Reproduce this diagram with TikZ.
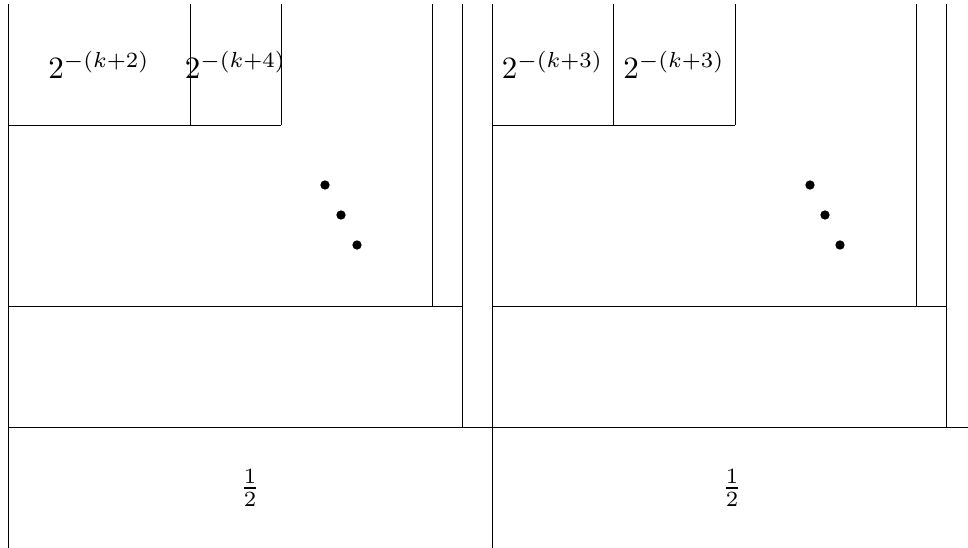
\documentclass[tikz,border=0pt]{standalone}
\usepackage{amsmath,amssymb}
\usepackage{tikz}
\usetikzlibrary{positioning,calc}

\tikzset{
    block/.style={inner sep=0pt},
    half/.style={inner sep=0pt},
    dot/.style={circle,fill,inner sep=0pt,minimum size=3pt}
}

\begin{document}
\begin{tikzpicture}[x=0.322pt,y=-0.322pt,line width=0.3pt]
    \useasboundingbox (0,0) rectangle (968,548);

    % Left square
    \begin{scope}[shift={(0,0)}]
        \draw (8,4) -- (8,548);
        \draw (8,125) -- (281,125);
        \draw (190,4) -- (190,125);
        \draw (281,4) -- (281,125);
        \draw (8,306) -- (462,306);
        \draw (432,4) -- (432,306);
        \draw (462,4) -- (462,427);
        \node[block] (a1) at (99,64.5) {$2^{-(k+2)}$};
        \node[block] (a2) at (235.5,64.5) {$2^{-(k+4)}$};
        \node[half] (half1) at (250,488) {$\frac{1}{2}$};
        \node[dot] (d1) at (325,185) {};
        \node[dot] (d2) at (341,215) {};
        \node[dot] (d3) at (357,245) {};
    \end{scope}

    % Right square
    \begin{scope}[shift={(484,0)}]
        \draw (8,4) -- (8,548);
        \draw (8,125) -- (251,125);
        \draw (129,4) -- (129,125);
        \draw (251,4) -- (251,125);
        \draw (8,306) -- (462,306);
        \draw (432,4) -- (432,306);
        \draw (462,4) -- (462,427);
        \node[block] (b1) at (68.5,64.5) {$2^{-(k+3)}$};
        \node[block] (b2) at (190,64.5) {$2^{-(k+3)}$};
        \node[half] (half2) at (248,488) {$\frac{1}{2}$};
        \node[dot] (e1) at (326,185) {};
        \node[dot] (e2) at (341,215) {};
        \node[dot] (e3) at (356,245) {};
    \end{scope}

    \draw (8,427) -- (968,427);
\end{tikzpicture}
\end{document}
